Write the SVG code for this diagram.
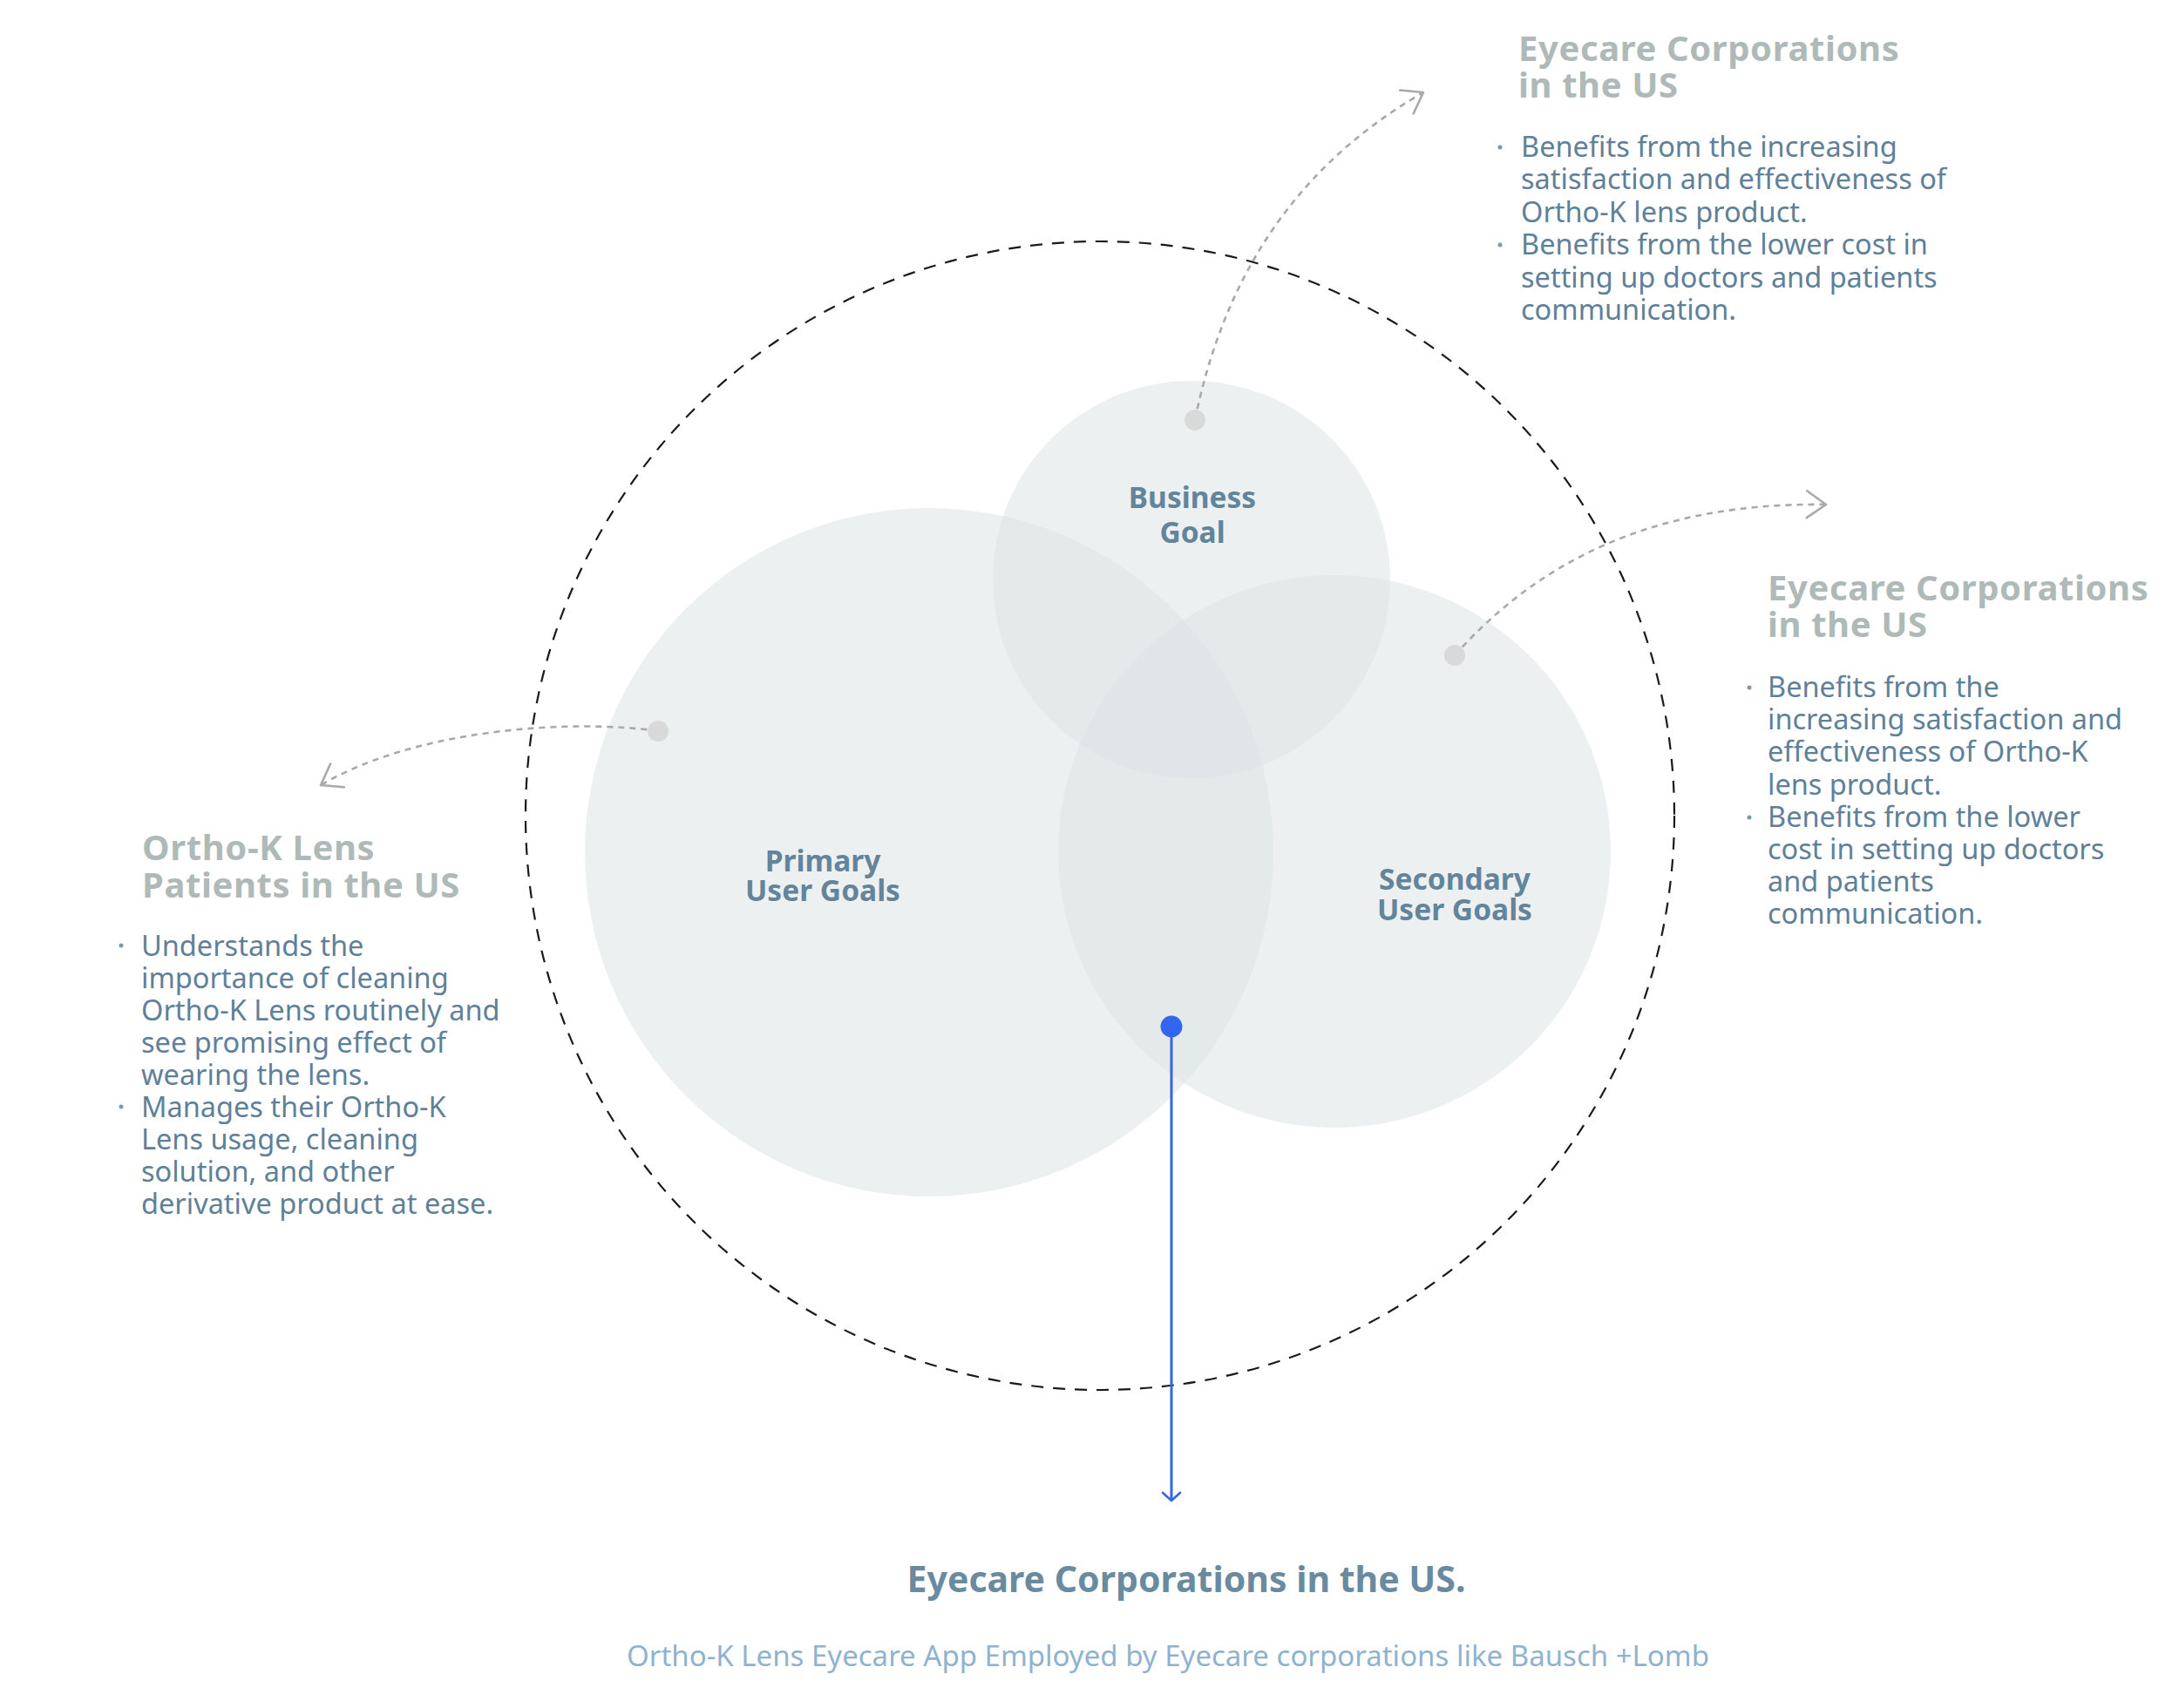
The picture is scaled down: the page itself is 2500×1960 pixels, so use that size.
<svg xmlns="http://www.w3.org/2000/svg" width="2500" height="1960" viewBox="0 0 2500 1960">
  <style>
    .venn { fill: #dbe2e4; fill-opacity: 0.5; }
    .lbl { font-family: "Noto Sans", "Liberation Sans", sans-serif; font-weight: 700; font-size: 33.5px; fill: #62859c; text-anchor: middle; }
    .ttl { font-family: "Noto Sans", "Liberation Sans", sans-serif; font-weight: 700; font-size: 40px; letter-spacing: 0.6px; fill: #afbab8; }
    .body { font-family: "Noto Sans", "Liberation Sans", sans-serif; font-size: 32.5px; fill: #5f8099; }
    .bullet { fill: #7d98ab; }
    .conn { fill: none; stroke: #a9a9a9; stroke-width: 2.6; stroke-dasharray: 7 6; }
    .dot { fill: #d9d9d9; }
    .outer { fill: none; stroke: #1a1a1a; stroke-width: 2.2; stroke-dasharray: 14 11; }
    .foot { font-family: "Noto Sans", "Liberation Sans", sans-serif; text-anchor: middle; }
  </style>
  <defs>
    <marker id="chev" markerUnits="userSpaceOnUse" markerWidth="60" markerHeight="60" viewBox="-30 -30 60 60" refX="0" refY="0" orient="auto">
      <path d="M-22,-15.5 L0,0 L-22,15.5" fill="none" stroke="#a9a9a9" stroke-width="2.6" stroke-linecap="round" stroke-linejoin="round"/>
    </marker>
    <marker id="chevBlue" markerUnits="userSpaceOnUse" markerWidth="40" markerHeight="40" viewBox="-20 -20 40 40" refX="0" refY="0" orient="auto">
      <path d="M-9,-10 L0,0 L-9,10" fill="none" stroke="#3366e0" stroke-width="2.6" stroke-linecap="round" stroke-linejoin="round"/>
    </marker>
  </defs>

  <rect width="2500" height="1960" fill="#ffffff"/>

  <g id="outer-boundary">
    <circle class="outer" cx="1262" cy="936" r="659"/>
  </g>

  <g id="primary-user-goals">
    <circle class="venn" cx="1066" cy="978" r="395"/>
    <text class="lbl" x="944" y="1000">Primary</text>
    <text class="lbl" x="944" y="1034">User Goals</text>
  </g>

  <g id="business-goal">
    <circle class="venn" cx="1367" cy="665" r="228"/>
    <text class="lbl" x="1368" y="583">Business</text>
    <text class="lbl" x="1368" y="623">Goal</text>
  </g>

  <g id="secondary-user-goals">
    <circle class="venn" cx="1531" cy="977" r="317"/>
    <text class="lbl" x="1669" y="1021">Secondary</text>
    <text class="lbl" x="1669" y="1056">User Goals</text>
  </g>

  <g id="connectors">
    <path class="conn" d="M1371,482 C1400,340 1470,200 1633,106" marker-end="url(#chev)"/>
    <path class="conn" d="M1669,752 C1760,650 1890,576 2095,579" marker-end="url(#chev)"/>
    <path class="conn" d="M755,839 C660,825 480,835 368,901" marker-end="url(#chev)"/>
    <line x1="1344" y1="1178" x2="1344" y2="1722" stroke="#3366e0" stroke-width="3" marker-end="url(#chevBlue)"/>
  </g>

  <g id="anchor-dots">
    <circle class="dot" cx="1371" cy="482" r="12"/>
    <circle class="dot" cx="1669" cy="752" r="12"/>
    <circle class="dot" cx="755" cy="839" r="12"/>
    <circle cx="1344" cy="1178" r="12.5" fill="#3366ee"/>
  </g>

  <g id="note-top-right">
    <text class="ttl" x="1742" y="70">Eyecare Corporations</text>
    <text class="ttl" x="1742" y="112">in the US</text>
    <circle class="bullet" cx="1721" cy="169" r="2.5"/>
    <circle class="bullet" cx="1721" cy="281" r="2.5"/>
    <text class="body" x="1745" y="180">Benefits from the increasing</text>
    <text class="body" x="1745" y="217">satisfaction and effectiveness of</text>
    <text class="body" x="1745" y="255">Ortho-K lens product.</text>
    <text class="body" x="1745" y="292">Benefits from the lower cost in</text>
    <text class="body" x="1745" y="330">setting up doctors and patients</text>
    <text class="body" x="1745" y="367">communication.</text>
  </g>

  <g id="note-right">
    <text class="ttl" x="2028" y="689">Eyecare Corporations</text>
    <text class="ttl" x="2028" y="731">in the US</text>
    <circle class="bullet" cx="2007" cy="789" r="2.5"/>
    <circle class="bullet" cx="2007" cy="938" r="2.5"/>
    <text class="body" x="2028" y="800">Benefits from the</text>
    <text class="body" x="2028" y="837">increasing satisfaction and</text>
    <text class="body" x="2028" y="874">effectiveness of Ortho-K</text>
    <text class="body" x="2028" y="912">lens product.</text>
    <text class="body" x="2028" y="949">Benefits from the lower</text>
    <text class="body" x="2028" y="986">cost in setting up doctors</text>
    <text class="body" x="2028" y="1023">and patients</text>
    <text class="body" x="2028" y="1060">communication.</text>
  </g>

  <g id="note-left">
    <text class="ttl" x="163" y="987">Ortho-K Lens</text>
    <text class="ttl" x="163" y="1030">Patients in the US</text>
    <circle class="bullet" cx="139" cy="1085" r="2.5"/>
    <circle class="bullet" cx="139" cy="1270" r="2.5"/>
    <text class="body" x="162" y="1097">Understands the</text>
    <text class="body" x="162" y="1134">importance of cleaning</text>
    <text class="body" x="162" y="1171">Ortho-K Lens routinely and</text>
    <text class="body" x="162" y="1208">see promising effect of</text>
    <text class="body" x="162" y="1245">wearing the lens.</text>
    <text class="body" x="162" y="1282">Manages their Ortho-K</text>
    <text class="body" x="162" y="1319">Lens usage, cleaning</text>
    <text class="body" x="162" y="1356">solution, and other</text>
    <text class="body" x="162" y="1393">derivative product at ease.</text>
  </g>

  <g id="footer">
    <text class="foot" x="1361" y="1827" font-size="41" font-weight="700" fill="#6a8a9f">Eyecare Corporations in the US.</text>
    <text class="foot" x="1340" y="1912" font-size="33" fill="#8fb3cf">Ortho-K Lens Eyecare App Employed by Eyecare corporations like Bausch +Lomb</text>
  </g>
</svg>
